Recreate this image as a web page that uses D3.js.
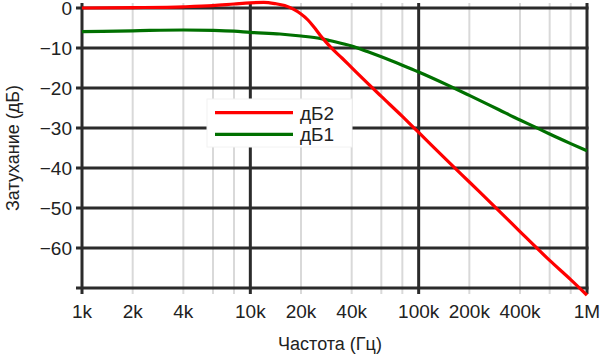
<!DOCTYPE html>
<html>
<head>
<meta charset="utf-8">
<script src="https://cdn.jsdelivr.net/npm/d3@7"></script>
<style>
  html, body { margin: 0; padding: 0; background: #fff; }
  svg { display: block; font-family: "Liberation Sans", Arial, sans-serif; }
</style>
</head>
<body>
<svg id="chart" width="600" height="356"></svg>
<script>
// ---- data ----
const freqs = [1e3, 2e3, 4e3, 6e3, 8e3, 10e3, 12e3, 14e3, 16e3, 18e3, 20e3, 22e3, 24e3, 26e3, 28e3, 30e3, 35e3, 40e3, 50e3, 60e3, 80e3, 100e3, 150e3, 200e3, 300e3, 400e3, 600e3, 800e3, 1e6];
const db2 = [0, 0.1, 0.3, 0.6, 1.0, 1.3, 1.4, 1.1, 0.6, -0.3, -1.5, -3.0, -4.9, -6.8, -8.4, -9.8, -12.5, -14.9, -18.9, -22.1, -27.1, -31.1, -38.4, -43.5, -50.7, -55.9, -63.1, -67.9, -71.8];
const freqs1 = [1e3, 2e3, 4e3, 6e3, 8e3, 10e3, 15e3, 20e3, 26e3, 30e3, 40e3, 50e3, 60e3, 80e3, 100e3, 150e3, 200e3, 300e3, 400e3, 500e3, 600e3, 800e3, 1e6];
const db1 = [-5.9, -5.7, -5.5, -5.6, -5.8, -6.1, -6.5, -7.0, -7.6, -8.2, -9.5, -10.95, -12.2, -14.3, -16.0, -19.35, -21.85, -25.45, -28.0, -29.9, -31.5, -33.9, -35.7];
const seriesNames = ["дБ2", "дБ1"];
const seriesColors = ["#ff0000", "#007000"];
const xTickValues = [1e3, 2e3, 4e3, 10e3, 20e3, 40e3, 100e3, 200e3, 400e3, 1e6];
const xTickLabels = ["1k", "2k", "4k", "10k", "20k", "40k", "100k", "200k", "400k", "1M"];
const xMajor = [1e3, 10e3, 100e3, 1e6];
const xMinor = [2e3, 4e3, 6e3, 8e3, 20e3, 40e3, 60e3, 80e3, 200e3, 400e3, 600e3, 800e3];
const yTickValues = [0, -10, -20, -30, -40, -50, -60, -70];
const yTickLabels = ["0", "−10", "−20", "−30", "−40", "−50", "−60", ""];
const xTitle = "Частота (Гц)";
const yTitle = "Затухание (дБ)";

// ---- layout ----
const svg = d3.select("#chart");
const x = d3.scaleLog().domain([1e3, 1e6]).range([82, 587]);
const y = d3.scaleLinear().domain([-70, 0]).range([288, 8]);
const ext = 6;
const dark = "#2b2b2b";

// minor vertical grid
svg.append("g").selectAll("line").data(xMinor).join("line")
  .attr("x1", d => x(d)).attr("x2", d => x(d))
  .attr("y1", y(0) - 5).attr("y2", y(-70) + ext)
  .attr("stroke", "#d9d9d9").attr("stroke-width", 2);

// horizontal grid
svg.append("g").selectAll("line").data(yTickValues).join("line")
  .attr("x1", x(1e3) - ext).attr("x2", x(1e6) + 1.5)
  .attr("y1", d => y(d)).attr("y2", d => y(d))
  .attr("stroke", dark).attr("stroke-width", 3);

// major vertical grid
svg.append("g").selectAll("line").data(xMajor).join("line")
  .attr("x1", d => x(d)).attr("x2", d => x(d))
  .attr("y1", y(0) - 5).attr("y2", y(-70) + ext)
  .attr("stroke", dark).attr("stroke-width", 3);

// y tick labels
svg.append("g").selectAll("text").data(yTickValues).join("text")
  .attr("x", 72).attr("y", d => y(d)).attr("dy", "0.36em")
  .attr("text-anchor", "end").attr("font-size", 19).attr("fill", "#222")
  .text((d, i) => yTickLabels[i]);

// x tick labels
svg.append("g").selectAll("text").data(xTickValues).join("text")
  .attr("x", d => x(d)).attr("y", 318)
  .attr("text-anchor", "middle").attr("font-size", 19).attr("fill", "#222")
  .text((d, i) => xTickLabels[i]);

// axis titles
svg.append("text").attr("x", 330).attr("y", 350).attr("text-anchor", "middle")
  .attr("font-size", 18).attr("fill", "#222").text(xTitle);
svg.append("text").attr("transform", "translate(19,148) rotate(-90)")
  .attr("text-anchor", "middle").attr("font-size", 18).attr("fill", "#222").text(yTitle);

// lines
const line = d3.line().x(d => x(d[0])).y(d => y(d[1])).curve(d3.curveMonotoneX);
const data2 = freqs.map((f, i) => [f, db2[i]]);
const data1 = freqs1.map((f, i) => [f, db1[i]]);
svg.append("path").datum(data1).attr("d", line).attr("fill", "none")
  .attr("stroke", seriesColors[1]).attr("stroke-width", 3.2);
svg.append("path").datum(data2).attr("d", line).attr("fill", "none")
  .attr("stroke", seriesColors[0]).attr("stroke-width", 3.2);

// legend
const lg = svg.append("g");
lg.append("rect").attr("x", 207).attr("y", 99).attr("width", 145).attr("height", 48)
  .attr("fill", "#fff").attr("stroke", "#f2f2f2");
seriesNames.forEach((name, i) => {
  const ly = 112.7 + i * 21.6;
  lg.append("line").attr("x1", 215).attr("x2", 293).attr("y1", ly).attr("y2", ly)
    .attr("stroke", seriesColors[i]).attr("stroke-width", 3.3);
  lg.append("text").attr("x", 300).attr("y", ly).attr("dy", "0.36em")
    .attr("font-size", 19).attr("fill", "#222").text(name);
});
</script>
</body>
</html>
